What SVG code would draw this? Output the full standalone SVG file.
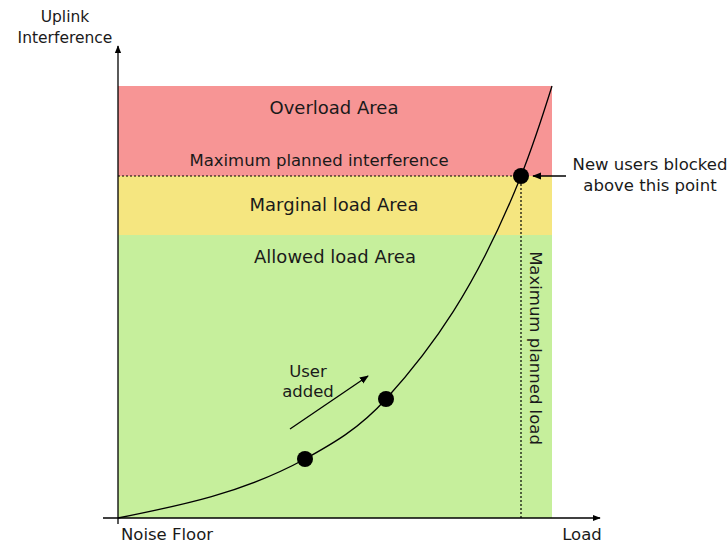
<svg xmlns="http://www.w3.org/2000/svg" width="728" height="545" viewBox="0 0 728 545">
  <defs>
    <marker id="arr" viewBox="0 0 10 10" refX="9" refY="5" markerWidth="8" markerHeight="8" markerUnits="userSpaceOnUse" orient="auto">
      <path d="M0,1 L10,5 L0,9 Z" fill="#000"/>
    </marker>
    <marker id="arrSmall" viewBox="0 0 10 10" refX="9" refY="5" markerWidth="9" markerHeight="9" markerUnits="userSpaceOnUse" orient="auto">
      <path d="M0,1 L10,5 L0,9 Z" fill="#000"/>
    </marker>
  </defs>
  <style>
    text { font-family: "DejaVu Sans", "Liberation Sans", sans-serif; font-size: 16.5px; fill: #1a1a1a; }
    .mid { text-anchor: middle; }
    .ax { font-size: 15.5px; }
    .zone { font-size: 18px; }
    .axis { stroke: #000; stroke-width: 1.3; fill: none; }
    .dot { stroke: #000; stroke-width: 1.2; stroke-dasharray: 2 2; fill: none; }
    .pt { fill: #000; }
  </style>

  <!-- zones -->
  <g id="overload">
    <rect x="118" y="86" width="434" height="90" fill="#f79595"/>
    <text class="mid zone" x="334" y="114">Overload Area</text>
  </g>
  <g id="marginal">
    <rect x="118" y="176" width="434" height="59" fill="#f5e680"/>
    <text class="mid zone" x="334" y="211">Marginal load Area</text>
  </g>
  <g id="allowed">
    <rect x="118" y="235" width="434" height="283" fill="#c6ef9c"/>
    <text class="mid zone" x="335" y="263">Allowed load Area</text>
  </g>

  <g id="connectors">
    <!-- axes -->
    <line class="axis" x1="103" y1="518" x2="600" y2="518" marker-end="url(#arr)"/>
    <line class="axis" x1="118" y1="524" x2="118" y2="46" marker-end="url(#arr)"/>
    <!-- limits -->
    <line class="dot" x1="118" y1="176" x2="521" y2="176"/>
    <line class="dot" x1="521" y1="176" x2="521" y2="518"/>
    <!-- load curve -->
    <path class="axis" d="M118,518 C180,505.6 243,493 305,459 C332,444 359,429 386,399 C431,349.5 476,288.5 521,176 C531.3,150 541.7,119 552,86"/>
    <!-- annotations -->
    <line class="axis" x1="290" y1="429" x2="368" y2="376" marker-end="url(#arrSmall)"/>
    <line class="axis" x1="566" y1="176" x2="533" y2="176" marker-end="url(#arrSmall)"/>
  </g>

  <g id="points">
    <circle class="pt" cx="305" cy="459" r="8"/>
    <circle class="pt" cx="386" cy="399" r="8"/>
    <circle class="pt" cx="521" cy="176" r="8"/>
  </g>

  <g id="labels">
    <text class="mid ax" x="65" y="22">Uplink</text>
    <text class="mid ax" x="65" y="43">Interference</text>
    <text x="121" y="540">Noise Floor</text>
    <text class="mid" x="582" y="540">Load</text>
    <text class="mid" x="319" y="166">Maximum planned interference</text>
    <text class="mid" x="650" y="170">New users blocked</text>
    <text class="mid" x="650" y="191">above this point</text>
    <text class="mid" x="308" y="377">User</text>
    <text class="mid" x="308" y="397">added</text>
    <text class="mid" transform="translate(530,348) rotate(90)">Maximum planned load</text>
  </g>
</svg>
